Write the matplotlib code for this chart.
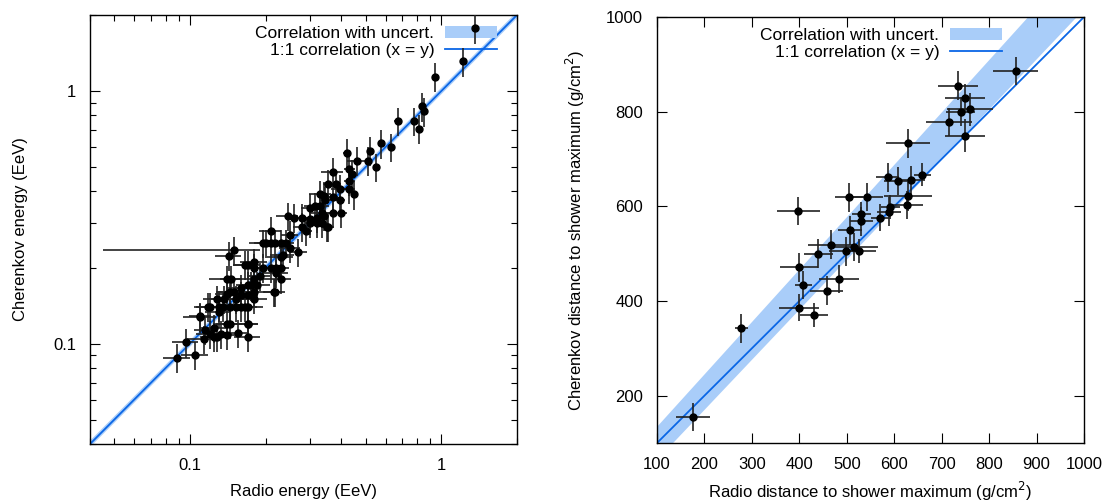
import matplotlib
matplotlib.use("Agg")
import matplotlib.pyplot as plt
import numpy as np
from matplotlib.ticker import LogLocator, FixedLocator, NullFormatter, FixedFormatter

plt.rcParams['font.family'] = ['Liberation Sans', 'DejaVu Sans']
plt.rcParams['font.size'] = 12

# left panel: energies (EeV)
radio_energy = [1.36, 1.22, 0.94, 0.84, 0.855, 0.815, 0.78, 0.67, 0.63, 0.575,
                0.55, 0.52, 0.51, 0.46, 0.42, 0.43, 0.44, 0.45, 0.37, 0.43,
                0.355, 0.38, 0.37, 0.395, 0.43, 0.40, 0.37, 0.34, 0.33, 0.33,
                0.335, 0.34, 0.30, 0.315, 0.32, 0.30, 0.28, 0.26, 0.245, 0.28,
                0.29, 0.32, 0.35, 0.21, 0.25, 0.20, 0.21, 0.23, 0.395, 0.30,
                0.336, 0.355, 0.345,
                0.195, 0.217, 0.24, 0.25, 0.27, 0.235, 0.23, 0.23, 0.22, 0.22,
                0.23, 0.215, 0.195, 0.18, 0.17, 0.165, 0.18, 0.19, 0.18, 0.175,
                0.185, 0.18, 0.18, 0.17, 0.17, 0.17, 0.17, 0.155, 0.143, 0.14,
                0.146, 0.144, 0.14, 0.15, 0.16, 0.16, 0.153, 0.16, 0.153, 0.144,
                0.135, 0.128, 0.13, 0.12, 0.11, 0.125, 0.115, 0.12, 0.114, 0.128,
                0.14, 0.14, 0.144, 0.096, 0.105, 0.089, 0.17, 0.21, 0.217, 0.137,
                0.165, 0.118, 0.11, 0.13, 0.133, 0.125, 0.17]
cherenkov_energy = [1.77, 1.31, 1.14, 0.87, 0.83, 0.71, 0.76, 0.76, 0.60, 0.62,
                    0.50, 0.58, 0.53, 0.53, 0.57, 0.49, 0.47, 0.39, 0.48, 0.44,
                    0.43, 0.43, 0.38, 0.41, 0.41, 0.33, 0.33, 0.385, 0.39, 0.35,
                    0.33, 0.32, 0.345, 0.35, 0.315, 0.31, 0.315, 0.315, 0.32, 0.29,
                    0.28, 0.30, 0.29, 0.28, 0.27, 0.25, 0.25, 0.25, 0.37, 0.30,
                    0.30, 0.29, 0.37,
                    0.25, 0.25, 0.25, 0.24, 0.23, 0.225, 0.22, 0.20, 0.20, 0.19,
                    0.18, 0.16, 0.20, 0.21, 0.205, 0.205, 0.20, 0.185, 0.18, 0.17,
                    0.17, 0.16, 0.15, 0.155, 0.14, 0.12, 0.106, 0.11, 0.223, 0.18,
                    0.18, 0.16, 0.157, 0.16, 0.166, 0.155, 0.15, 0.14, 0.14, 0.14,
                    0.14, 0.15, 0.14, 0.14, 0.127, 0.115, 0.113, 0.109, 0.104, 0.106,
                    0.12, 0.108, 0.12, 0.101, 0.09, 0.088, 0.17, 0.20, 0.16, 0.15,
                    0.14, 0.14, 0.128, 0.133, 0.109, 0.106, 0.12]
radio_energy_rel_err = [0.02, 0.02, 0.02, 0.02, 0.02, 0.02, 0.02, 0.03, 0.03, 0.03,
                        0.03, 0.03, 0.03, 0.08, 0.03, 0.05, 0.03, 0.03, 0.10, 0.05,
                        0.05, 0.05, 0.05, 0.08, 0.05, 0.05, 0.08, 0.05, 0.10, 0.08,
                        0.10, 0.05, 0.08, 0.10, 0.05, 0.08, 0.10, 0.05, 0.10, 0.08,
                        0.05, 0.08, 0.05, 0.10, 0.08, 0.10, 0.12, 0.10, 0.05, 0.05,
                        0.05, 0.05, 0.05,
                        0.12, 0.10, 0.08, 0.10, 0.08, 0.10, 0.12, 0.08, 0.10, 0.12,
                        0.10, 0.08, 0.10, 0.12, 0.12, 0.10, 0.08, 0.10, 0.15, 0.10,
                        0.12, 0.10, 0.12, 0.10, 0.15, 0.10, 0.12, 0.10, 0.12, 0.15,
                        0.10, 0.12, 0.10, 0.15, 0.12, 0.10, 0.12, 0.15, 0.10, 0.12,
                        0.10, 0.12, 0.15, 0.12, 0.15, 0.12, 0.10, 0.12, 0.15, 0.10,
                        0.12, 0.10, 0.12, 0.12, 0.12, 0.12, 0.10, 0.08, 0.10, 0.12,
                        0.10, 0.12, 0.10, 0.12, 0.10, 0.12, 0.10]
cherenkov_energy_rel_err = 0.13

# the one event with a very long radio error bar
long_radio = 0.15
long_cherenkov = 0.234
long_radio_lo = 0.045
long_radio_hi = 0.19

# left panel correlation band (relative to x)
energy_band_lo = 0.98
energy_band_hi = 1.04

# right panel: distance to shower maximum (g/cm^2)
radio_xmax = [176, 278, 398, 400, 408, 399, 431, 458, 484, 440,
              467, 498, 515, 526, 507, 531, 531, 505, 542, 570,
              589, 592, 586, 609, 626, 629, 635, 659, 629, 716,
              740, 760, 749, 735, 749, 856]
cherenkov_xmax = [155, 342, 590, 471, 434, 386, 370, 422, 446, 500,
                  519, 505, 514, 505, 549, 568, 584, 619, 620, 576,
                  589, 599, 661, 653, 603, 621, 656, 667, 733, 778,
                  800, 805, 828, 855, 749, 886]
radio_xmax_err = [36, 14, 46, 40, 18, 42, 30, 35, 42, 30,
                  48, 35, 50, 35, 25, 25, 20, 30, 35, 18,
                  25, 20, 25, 30, 35, 50, 30, 18, 47, 48,
                  30, 48, 42, 42, 42, 47]
cherenkov_xmax_err = [29, 30, 30, 30, 30, 28, 25, 30, 30, 30,
                      30, 30, 30, 25, 30, 30, 25, 30, 30, 28,
                      30, 25, 30, 30, 30, 30, 30, 25, 30, 30,
                      30, 35, 30, 30, 35, 30]

# right panel correlation band edges at x = 100 and x = 1000
xmax_band_x = [100, 1000]
xmax_band_lo = [64, 1016]
xmax_band_hi = [134, 1130]

band_color = '#a9cdf9'
line_color = '#0a66e6'

fig = plt.figure(figsize=(11.17, 5.04), dpi=100)
ax1 = fig.add_axes([90 / 1117, 1 - 444 / 504, 427 / 1117, 429 / 504])
ax2 = fig.add_axes([657 / 1117, 1 - 443 / 504, 427 / 1117, 426 / 504])

# ---- left panel
xs = np.geomspace(0.04, 2, 200)
ax1.fill_between(xs, xs * energy_band_lo, xs * energy_band_hi, color=band_color,
                 lw=0, label='Correlation with uncert.')
ax1.plot(xs, xs, color=line_color, lw=1.3, label='1:1 correlation (x = y)')
re = np.array(radio_energy)
ce = np.array(cherenkov_energy)
ax1.errorbar(re, ce, xerr=re * np.array(radio_energy_rel_err), yerr=ce * cherenkov_energy_rel_err,
             fmt='o', color='black', ecolor='#222222', elinewidth=1.2, ms=5, capsize=0, zorder=6)
ax1.errorbar([long_radio], [long_cherenkov],
             xerr=[[long_radio - long_radio_lo], [long_radio_hi - long_radio]],
             yerr=[long_cherenkov * cherenkov_energy_rel_err],
             fmt='o', color='black', ecolor='#222222', elinewidth=1.2, ms=5, capsize=0, zorder=6)
ax1.set_xscale('log')
ax1.set_yscale('log')
ax1.set_xlim(0.04, 2)
ax1.set_ylim(0.04, 2)
for axis in (ax1.xaxis, ax1.yaxis):
    axis.set_major_locator(FixedLocator([0.1, 1]))
    axis.set_major_formatter(FixedFormatter(['0.1', '1']))
    axis.set_minor_locator(LogLocator(base=10, subs=np.arange(2, 10)))
    axis.set_minor_formatter(NullFormatter())
ax1.set_xlabel('Radio energy (EeV)', labelpad=8)
ax1.set_ylabel('Cherenkov energy (EeV)', labelpad=18)

# ---- right panel
ax2.fill_between(xmax_band_x, xmax_band_lo, xmax_band_hi, color=band_color, lw=0,
                 label='Correlation with uncert.')
ax2.plot([100, 1000], [100, 1000], color=line_color, lw=1.3, label='1:1 correlation (x = y)')
ax2.errorbar(radio_xmax, cherenkov_xmax, xerr=radio_xmax_err, yerr=cherenkov_xmax_err,
             fmt='o', color='black', ecolor='#222222', elinewidth=1.2, ms=5, capsize=0, zorder=6)
ax2.set_xlim(100, 1000)
ax2.set_ylim(100, 1000)
ax2.set_xticks(range(100, 1001, 100))
ax2.set_yticks(range(200, 1001, 200))
ax2.set_xlabel('Radio distance to shower maximum (g/cm$^2$)', labelpad=6)
ax2.set_ylabel('Cherenkov distance to shower maximum (g/cm$^2$)', labelpad=14)

for ax, anchor_x in ((ax1, 0.981), (ax2, 0.836)):
    ax.tick_params(which='both', direction='in', top=True, right=True, labelsize=12)
    ax.tick_params(which='major', length=7, width=0.8, pad=10)
    ax.tick_params(which='minor', length=4, width=0.8)
    for s in ax.spines.values():
        s.set_linewidth(1.0)
    leg = ax.legend(loc='upper right', bbox_to_anchor=(anchor_x, 1.003), frameon=False,
                    markerfirst=False, fontsize=12.5, handlelength=3.0, borderaxespad=0.3,
                    labelspacing=0.1, handletextpad=0.6)
    leg.set_zorder(4)

fig.savefig('out.png', dpi=100)
